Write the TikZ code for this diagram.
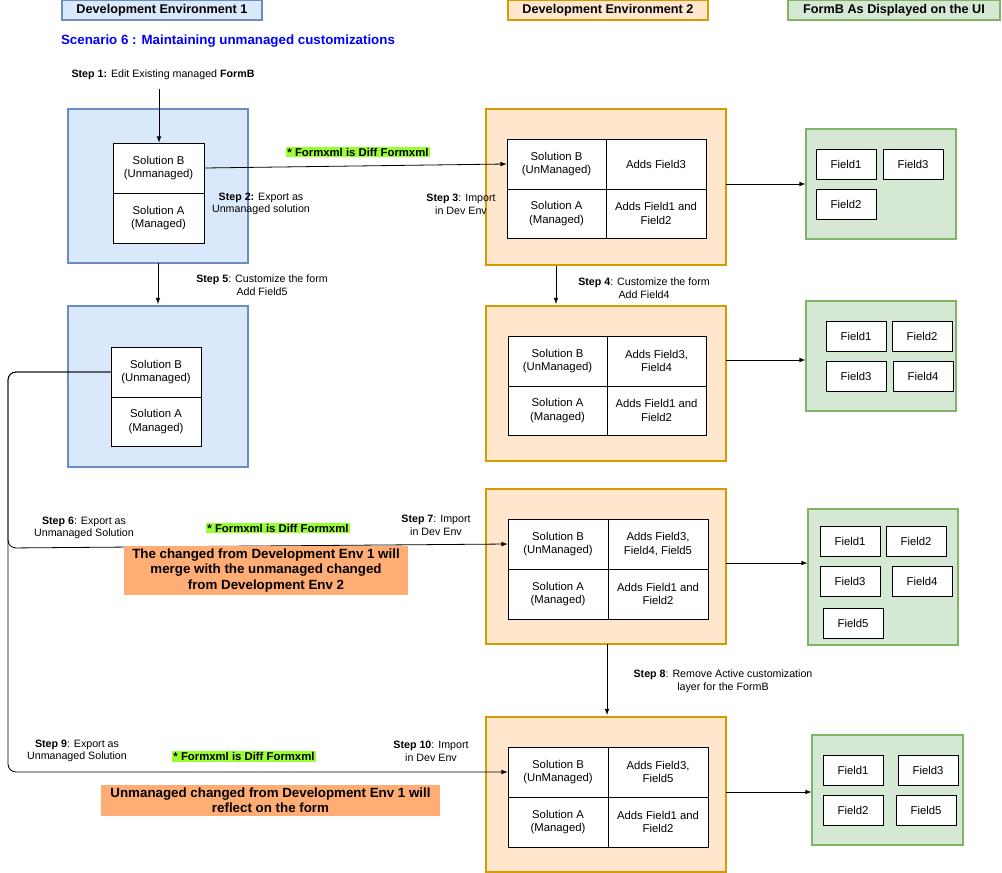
\documentclass[tikz,border=0pt]{standalone}
\usepackage{fontspec}
\setmainfont{Liberation Sans}
\begin{document}
\begin{tikzpicture}[x=0.75pt,y=-0.75pt,
  every node/.style={font=\fontsize{8.5}{10}\selectfont, align=center, inner sep=0pt},
  arr/.style={-latex, line width=0.6pt},
  sol/.style={draw, fill=white, line width=0.6pt},
  blu/.style={draw={rgb,255:red,108;green,142;blue,191}, fill={rgb,255:red,218;green,232;blue,252}, line width=0.8pt},
  org/.style={draw={rgb,255:red,215;green,155;blue,0}, fill={rgb,255:red,255;green,230;blue,204}, line width=0.8pt},
  grn/.style={draw={rgb,255:red,130;green,179;blue,102}, fill={rgb,255:red,213;green,232;blue,212}, line width=0.8pt},
  fld/.style={draw, fill=white, line width=0.6pt},
  lime/.style={fill={rgb,255:red,153;green,255;blue,51}, font=\bfseries\fontsize{8.5}{10}\selectfont, inner sep=1pt},
  note/.style={fill={rgb,255:red,255;green,173;blue,117}, font=\bfseries\fontsize{10}{11.5}\selectfont},
  stp/.style={font=\fontsize{8}{9.5}\selectfont}]
\newcommand{\bx}[7]{\node[#6, minimum width={(#4-#2)*0.75pt}, minimum height={(#5-#3)*0.75pt}] (#1) at ({(#2+#4)/2},{(#3+#5)/2}) {#7};}
\useasboundingbox (0,0) rectangle (1002,873);
% headers
\bx{h1}{62}{0}{262}{20}{blu,font=\bfseries\fontsize{9.5}{11}\selectfont}{Development Environment 1}
\bx{h2}{508}{0}{708}{20}{org,font=\bfseries\fontsize{9.5}{11}\selectfont}{Development Environment 2}
\bx{h3}{788}{0}{1000}{20}{grn,font=\bfseries\fontsize{9.5}{11}\selectfont}{FormB As Displayed on the UI}
\node[text={rgb,255:red,0;green,0;blue,255}, font=\bfseries\fontsize{10}{12}\selectfont] (scn) at (228,41) {Scenario 6 : Maintaining unmanaged customizations};
\node[stp] (s1) at (163,75) {\textbf{Step 1:} Edit Existing managed \textbf{FormB}};
% env1 A
\bx{e1a}{68}{109}{248}{263}{blu}{}
\bx{e1aB}{113}{143}{204}{193}{sol}{Solution B\\(Unmanaged)}
\bx{e1aA}{113}{193}{204}{243}{sol}{Solution A\\(Managed)}
\coordinate (s1b) at (159,89);
\draw[arr] (s1b) -- (e1aB.north -| s1b);
% env2 1
\bx{e21}{486}{109}{726}{265}{org}{}
\bx{t1a}{507}{139}{606}{189}{sol}{Solution B\\(UnManaged)}
\bx{t1b}{606}{139}{706}{189}{sol}{Adds Field3}
\bx{t1c}{507}{189}{606}{238}{sol}{Solution A\\(Managed)}
\bx{t1d}{606}{189}{706}{238}{sol}{Adds Field1 and\\Field2}
\draw[arr] (e1aB.east) -- (t1a.west);
\node[lime] (g1) at (358,152) {* Formxml is Diff Formxml};
\node[stp] (s2) at (261,204) {\textbf{Step 2:} Export as\\Unmanaged solution};
\node[stp] (s3) at (461,204) {\textbf{Step 3}: Import\\in Dev Env};
\bx{u1}{806}{129}{956}{239}{grn}{}
\bx{f11}{816}{149}{876}{179}{fld}{Field1}
\bx{f12}{883}{149}{943}{179}{fld}{Field3}
\bx{f13}{816}{189}{876}{219}{fld}{Field2}
\draw[arr] (726,184) -- (u1.west |- 0,184);
% env1 B
\bx{e1b}{68}{306}{248}{467}{blu}{}
\bx{e1bB}{111}{347}{201}{397}{sol}{Solution B\\(Unmanaged)}
\bx{e1bA}{111}{397}{201}{446}{sol}{Solution A\\(Managed)}
\draw[arr] (158,263) -- (158,304);
\node[stp] (s5) at (262,285) {\textbf{Step 5}: Customize the form\\Add Field5};
% env2 2
\bx{e22}{486}{306}{726}{461}{org}{}
\bx{t2a}{508}{336}{607}{386}{sol}{Solution B\\(UnManaged)}
\bx{t2b}{607}{336}{706}{386}{sol}{Adds Field3,\\Field4}
\bx{t2c}{508}{386}{607}{435}{sol}{Solution A\\(Managed)}
\bx{t2d}{607}{386}{706}{435}{sol}{Adds Field1 and\\Field2}
\draw[arr] (556,266) -- (556,304);
\node[stp] (s4) at (644,288) {\textbf{Step 4}: Customize the form\\Add Field4};
\bx{u2}{806}{301}{956}{411}{grn}{}
\bx{f21}{826}{321}{886}{351}{fld}{Field1}
\bx{f22}{892}{321}{952}{351}{fld}{Field2}
\bx{f23}{826}{361}{886}{391}{fld}{Field3}
\bx{f24}{893}{361}{953}{391}{fld}{Field4}
\draw[arr] (726,360) -- (u2.west |- 0,360);
% env2 3
\bx{e23}{486}{489}{726}{644}{org}{}
\bx{t3a}{508}{519}{608}{569}{sol}{Solution B\\(UnManaged)}
\bx{t3b}{608}{519}{708}{569}{sol}{Adds Field3,\\Field4, Field5}
\bx{t3c}{508}{569}{608}{619}{sol}{Solution A\\(Managed)}
\bx{t3d}{608}{569}{708}{619}{sol}{Adds Field1 and\\Field2}
\bx{u3}{808}{509}{958}{645}{grn}{}
\bx{f31}{820}{526}{880}{556}{fld}{Field1}
\bx{f32}{886}{526}{946}{556}{fld}{Field2}
\bx{f33}{820}{566}{880}{596}{fld}{Field3}
\bx{f34}{892}{566}{952}{596}{fld}{Field4}
\bx{f35}{823}{608}{883}{638}{fld}{Field5}
\draw[arr] (726,563) -- (u3.west |- 0,563);
\draw[arr] (607,644) -- (607,715);
\node[stp] (s8) at (723,681) {\textbf{Step 8}: Remove Active customization\\layer for the FormB};
% env2 4
\bx{e24}{486}{717}{726}{872}{org}{}
\bx{t4a}{508}{747}{608}{797}{sol}{Solution B\\(UnManaged)}
\bx{t4b}{608}{747}{708}{797}{sol}{Adds Field3,\\Field5}
\bx{t4c}{508}{797}{608}{847}{sol}{Solution A\\(Managed)}
\bx{t4d}{608}{797}{708}{847}{sol}{Adds Field1 and\\Field2}
\bx{u4}{812}{735}{963}{845}{grn}{}
\bx{f41}{823}{755}{883}{785}{fld}{Field1}
\bx{f42}{898}{755}{958}{785}{fld}{Field3}
\bx{f43}{823}{795}{883}{825}{fld}{Field2}
\bx{f44}{896}{795}{956}{825}{fld}{Field5}
\draw[arr] (726,792) -- (u4.west |- 0,792);
% long connectors
\draw[arr, rounded corners=6] (e1bB.west) -- (8,372) -- (8,548) -- (t3a.west);
\draw[arr, rounded corners=6] (e1bB.west) -- (8,372) -- (8,772) -- (t4a.west);
\node[stp] (s6) at (84,528) {\textbf{Step 6}: Export as\\Unmanaged Solution};
\node[lime] (g2) at (278,528) {* Formxml is Diff Formxml};
\node[stp] (s7) at (436,525) {\textbf{Step 7}: Import\\in Dev Env};
\bx{n1}{124}{546}{408}{595}{note}{The changed from Development Env 1 will\\merge with the unmanaged changed\\from Development Env 2}
\node[stp] (s9) at (77,751) {\textbf{Step 9}: Export as\\Unmanaged Solution};
\node[lime] (g3) at (244,756) {* Formxml is Diff Formxml};
\node[stp] (s10) at (431,751) {\textbf{Step 10}: Import\\in Dev Env};
\bx{n2}{101}{785}{440}{816}{note}{Unmanaged changed from Development Env 1 will\\reflect on the form};
\end{tikzpicture}
\end{document}
